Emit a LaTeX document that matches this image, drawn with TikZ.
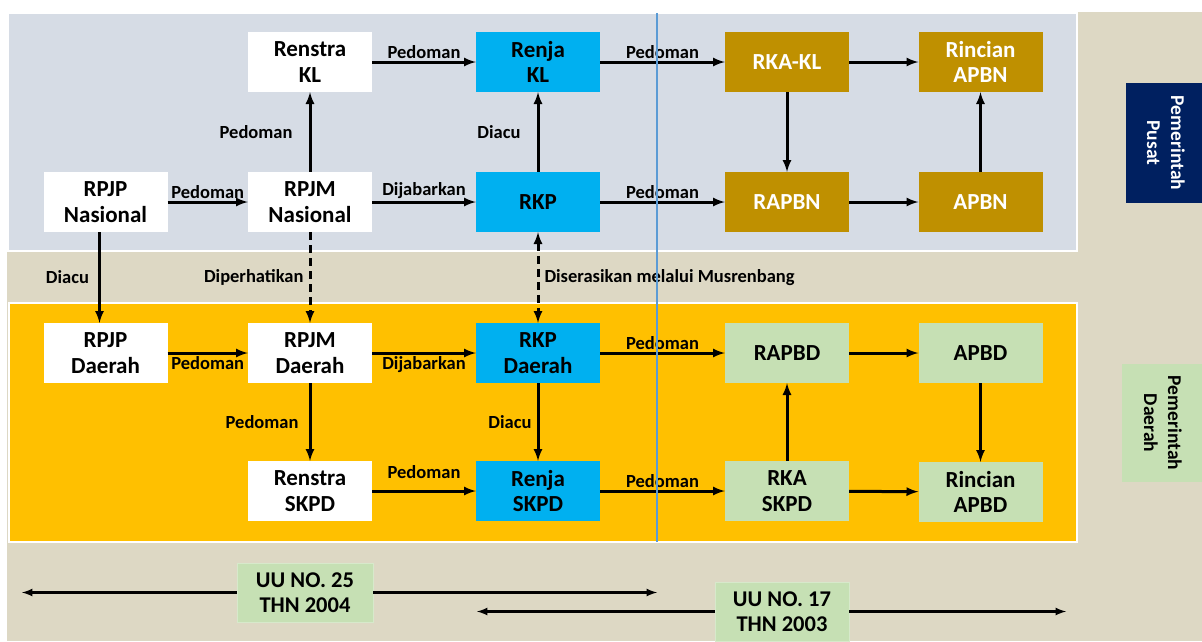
\documentclass[tikz,border=0pt]{standalone}
\usepackage{fontspec}
\setmainfont{Carlito}
\usepackage{tikz}
\usetikzlibrary{positioning}

\definecolor{beige}{HTML}{DDD8C4}
\definecolor{panelgray}{HTML}{D6DCE5}
\definecolor{panelyellow}{HTML}{FFC000}
\definecolor{renjablue}{HTML}{00B0F0}
\definecolor{gold}{HTML}{BF9000}
\definecolor{lightgreen}{HTML}{C6E0B4}
\definecolor{navy}{HTML}{002060}
\definecolor{splitblue}{HTML}{5B9BD5}

\begin{document}
\begin{tikzpicture}
    [
    x=1pt,y=-1pt,
    box/.style={minimum width=124pt,minimum height=60pt,inner sep=0pt,align=center,
      font=\fontsize{23}{25.5}\selectfont\bfseries},
    wbox/.style={box,fill=white},
    bbox/.style={box,fill=renjablue},
    gbox/.style={box,fill=gold,text=white},
    lbox/.style={box,fill=lightgreen},
    lbl/.style={font=\fontsize{18.5}{20}\selectfont\bfseries,inner sep=2pt},
    arrow/.style={-latex,line width=3pt},
    sidebox/.style={rotate=-90,inner sep=0pt,align=center,
      font=\fontsize{19.5}{24}\selectfont\bfseries},
    ]
    \useasboundingbox (0,0) rectangle (1202,641);
    \fill [white] (0,0) rectangle (1202,641);
    \fill [beige] (7,12) rectangle (1202,641);
    \draw [white,line width=1.5pt,fill=panelgray] (8,13) rectangle (1077,251);
    \draw [white,line width=1.5pt,fill=panelyellow] (9,303) rectangle (1077,542);

    % pemerintah pusat
    \node (renstrakl) at (310,62) [wbox] {Renstra\\KL};
    \node (renjakl) at (538,62) [bbox] {Renja\\KL};
    \node (rkakl) at (787,62) [gbox] {RKA-KL};
    \node (rincianapbn) at (980.5,62) [gbox] {Rincian\\APBN};
    \node (rpjpn) at (105.5,202) [wbox] {RPJP\\Nasional};
    \node (rpjmn) at (310,202) [wbox] {RPJM\\Nasional};
    \node (rkp) at (538,202) [bbox] {RKP};
    \node (rapbn) at (787,202) [gbox] {RAPBN};
    \node (apbn) at (980.5,202) [gbox] {APBN};

    % pemerintah daerah
    \node (rpjpd) at (105.5,353) [wbox] {RPJP\\Daerah};
    \node (rpjmd) at (310,353) [wbox] {RPJM\\Daerah};
    \node (rkpd) at (538,353) [bbox] {RKP\\Daerah};
    \node (rapbd) at (787,353) [lbox] {RAPBD};
    \node (apbd) at (980.5,353) [lbox] {APBD};
    \node (renstraskpd) at (310,491) [wbox] {Renstra\\SKPD};
    \node (renjaskpd) at (538,491) [bbox] {Renja\\SKPD};
    \node (rkaskpd) at (787,491) [lbox] {RKA\\SKPD};
    \node (rincianapbd) at (980.5,492) [lbox] {Rincian\\APBD};

    \node (pusat) at (1166,143) [sidebox,fill=navy,text=white,
      minimum width=120pt,minimum height=80pt] {Pemerintah\\Pusat};
    \node (daerah) at (1163,423) [sidebox,fill=lightgreen,
      minimum width=118pt,minimum height=82pt] {Pemerintah\\Daerah};

    \draw [arrow] (rpjpn) to node [lbl,above] {Pedoman} (rpjmn);
    \draw [arrow] (rpjmn) to node [lbl,left=14pt] {Pedoman} (renstrakl);
    \draw [arrow] (renstrakl) to node [lbl,above] {Pedoman} (renjakl);
    \draw [arrow] (rpjmn) to node [lbl,above] {Dijabarkan} (rkp);
    \draw [arrow] (rkp) to node [lbl,left=14pt] {Diacu} (renjakl);
    \draw [arrow] (renjakl) to node [lbl,above] {Pedoman} (rkakl);
    \draw [arrow] (rkp) to node [lbl,above] {Pedoman} (rapbn);
    \draw [arrow] (rkakl) to (rapbn);
    \draw [arrow] (rkakl) to (rincianapbn);
    \draw [arrow] (rapbn) to (apbn);
    \draw [arrow] (apbn) to (rincianapbn);

    \draw [arrow] ([xshift=-6pt]rpjpn.south) to node [lbl,left=7pt] {Diacu} ([xshift=-6pt]rpjpd.north);
    \draw [arrow,dash pattern=on 8pt off 5pt] (rpjmn) to node [lbl,left=3pt] {Diperhatikan} (rpjmd);
    \draw [arrow,latex-latex,dash pattern=on 8pt off 5pt] (rkp) to node [lbl,right=3pt] {Diserasikan melalui Musrenbang} (rkpd);

    \draw [arrow] (rpjpd) to node [lbl,below] {Pedoman} (rpjmd);
    \draw [arrow] (rpjmd) to node [lbl,below] {Dijabarkan} (rkpd);
    \draw [arrow] (rpjmd) to node [lbl,left=8pt] {Pedoman} (renstraskpd);
    \draw [arrow] (rkpd) to node [lbl,left=3pt] {Diacu} (renjaskpd);
    \draw [arrow] (rkpd) to node [lbl,above] {Pedoman} (rapbd);
    \draw [arrow] (renstraskpd) to node [lbl,above=9pt] {Pedoman} (renjaskpd);
    \draw [arrow] (renjaskpd) to node [lbl,above] {Pedoman} (rkaskpd);
    \draw [arrow] (rkaskpd) to (rapbd);
    \draw [arrow] (rapbd) to (apbd);
    \draw [arrow] (apbd) to (rincianapbd);
    \draw [arrow] (rkaskpd) to (rincianapbd);

    \draw [splitblue,line width=1.8pt] (657,13) to (657,542);

    % undang-undang
    \node (uu25) at (305,592.5) [box,fill=lightgreen,draw=lightgreen!70!white,
      minimum width=136pt,minimum height=59pt,font=\fontsize{22.5}{25.5}\selectfont\bfseries] {UU NO. 25\\THN 2004};
    \node (uu17) at (782,611.5) [box,fill=lightgreen,draw=lightgreen!70!white,
      minimum width=134pt,minimum height=59pt,font=\fontsize{22.5}{25.5}\selectfont\bfseries] {UU NO. 17\\THN 2003};
    \coordinate (uu25a) at (22,592.5);
    \coordinate (uu25b) at (657,592.5);
    \coordinate (uu17a) at (477,611.5);
    \coordinate (uu17b) at (1066,611.5);
    \draw [-latex,line width=2.5pt] (uu25) to (uu25a);
    \draw [-latex,line width=2.5pt] (uu25) to (uu25b);
    \draw [-latex,line width=2.5pt] (uu17) to (uu17a);
    \draw [-latex,line width=2.5pt] (uu17) to (uu17b);
  \end{tikzpicture}
\end{document}
